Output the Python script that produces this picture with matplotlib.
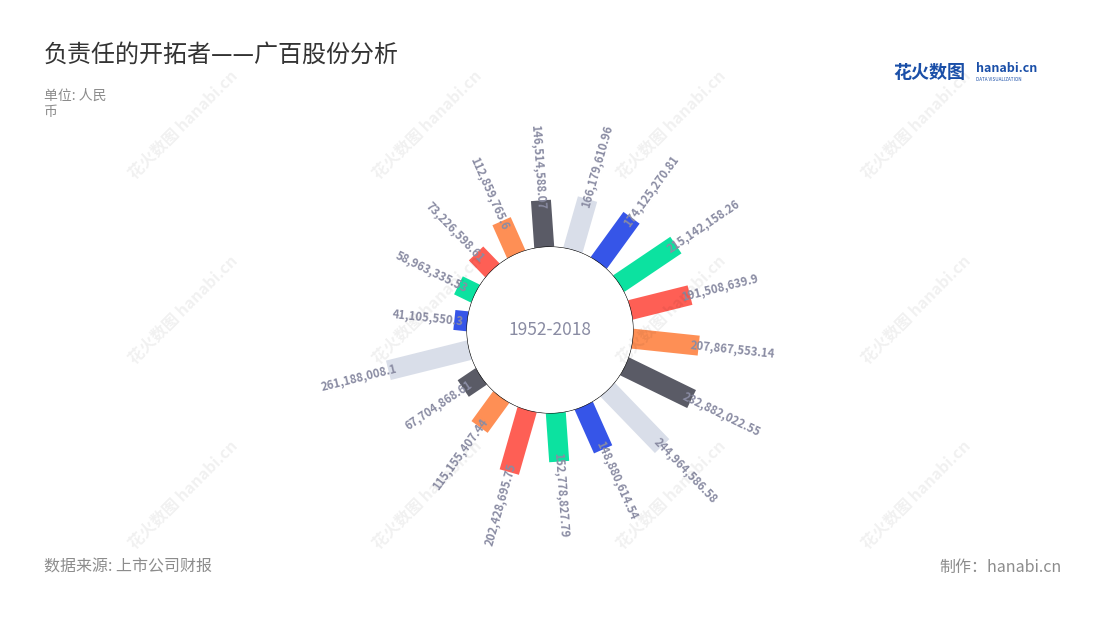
import matplotlib
matplotlib.use('Agg')
import matplotlib.pyplot as plt
import numpy as np

plt.rcParams['font.family'] = ['Noto Sans CJK SC', 'DejaVu Sans']

valores = [146514588.07, 166179610.96, 174125270.81, 215142158.26, 191508639.9,
           207867553.14, 232882022.55, 244964586.58, 148880614.54, 152778827.79,
           202428695.75, 115155407.44, 67704868.61, 261188008.1, 41105550.3,
           58963335.53, 73226598.61, 112859765.6]
etiquetas = [f'{v:,.2f}'.rstrip('0').rstrip('.') for v in valores]
colores = ['#5a5b66', '#d9dee9', '#3655e8', '#0ce2a0', '#fe5f55', '#fe8f55']

titulo = '负责任的开拓者——广百股份分析'
unidad = '单位: 人民\n币'
centro = '1952-2018'
fuente = '数据来源: 上市公司财报'
autor = '制作：hanabi.cn'

W, H = 1100, 620
fig = plt.figure(figsize=(W / 100, H / 100), dpi=100)

# ejes polares: centro (550, 330), radio 200 px
cx, cy, R = 550, 330, 200
ax = fig.add_axes([(cx - R) / W, (H - cy - R) / H, 2 * R / W, 2 * R / H], projection='polar')
ax.set_theta_zero_location('N')
ax.set_theta_direction(-1)
escala = 0.32 / 1e6      # px por unidad
r_int = 83 / escala      # radio del circulo interior en unidades
ax.set_ylim(0, R / escala - r_int)
ax.set_rorigin(-r_int)
ax.axis('off')

n = len(valores)
angulos = np.deg2rad(-4 + 360 / n * np.arange(n))

for i, (th, v) in enumerate(zip(angulos, valores)):
    ax.plot([th, th], [0, v], color=colores[i % len(colores)], lw=14.4,
            solid_capstyle='butt', zorder=2)

t = np.linspace(0, 2 * np.pi, 400)
ax.fill(t, np.zeros_like(t), facecolor='white', edgecolor='black', lw=0.8, zorder=3)
ax.text(0, -r_int, centro, ha='center', va='center', fontsize=12.5,
        color='#8a8ca3', zorder=4)

for th, v, et in zip(angulos, valores, etiquetas):
    phi = np.rad2deg(th) % 360
    dx, dy = -9 * np.sin(th), -9 * np.cos(th)
    if 0 < phi < 180:
        rot, ha = 90 - phi, 'left'
    else:
        rot, ha = 270 - phi, 'right'
    ax.annotate(et, xy=(th, v), xytext=(dx, dy), textcoords='offset pixels',
                rotation=rot, rotation_mode='anchor', ha=ha, va='center',
                fontsize=8.2, fontweight='bold', color='#8a8ca3', zorder=5,
                annotation_clip=False)

# marcas de agua
for xw in [183, 427, 671, 916]:
    for yw in [125, 310, 495]:
        fig.text(xw / W, 1 - yw / H, '花火数图 hanabi.cn', rotation=45,
                 ha='center', va='center', fontsize=11.5, fontweight='bold',
                 color='#000000', alpha=0.06, zorder=10)

fig.text(44 / W, 1 - 55 / H, titulo, fontsize=17.3, color='#333333', va='center')
fig.text(44 / W, 1 - 104 / H, unidad, fontsize=10, color='#8c8c8c', va='center',
         linespacing=1.25)
fig.text(44 / W, 1 - 567 / H, fuente, fontsize=11.5, color='#8c8c8c', va='center')
fig.text(1062 / W, 1 - 567 / H, autor, fontsize=11.5, color='#8c8c8c', va='center', ha='right')

# logo
fig.text(893 / W, 1 - 72 / H, '花火数图', fontsize=13, fontweight='bold',
         color='#1a4fa8', va='center')
fig.text(976 / W, 1 - 69 / H, 'hanabi.cn', fontsize=9, fontweight='bold',
         color='#1a4fa8', va='center')
fig.text(976 / W, 1 - 79.5 / H, 'DATA VISUALIZATION', fontsize=3.3,
         color='#1a4fa8', va='center')

fig.savefig('out.png', dpi=100)
